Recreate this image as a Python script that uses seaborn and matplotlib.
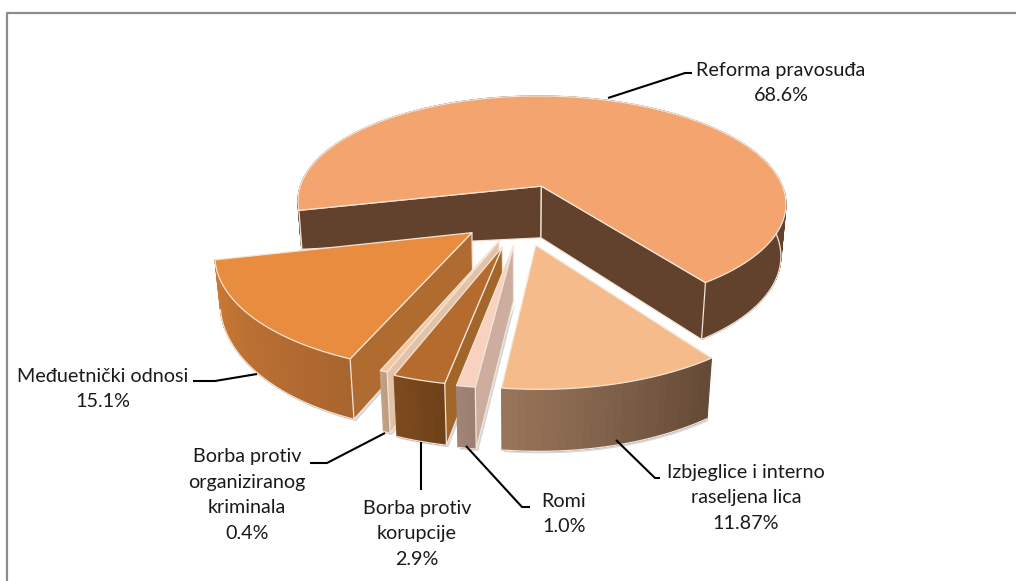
import numpy as np
import seaborn as sns
import matplotlib.pyplot as plt
from matplotlib.patches import Polygon

# slices, clockwise from the big one
labels = ["Reforma pravosuđa", "Izbjeglice i interno\nraseljena lica", "Romi",
          "Borba protiv\nkorupcije", "Borba protiv\norganiziranog\nkriminala", "Međuetnički odnosi"]
values = [68.6, 11.87, 1.0, 2.9, 0.4, 15.1]
value_labels = ["68.6%", "11.87%", "1.0%", "2.9%", "0.4%", "15.1%"]

# look of each slice
explode = [0.275, 0.275, 0.275, 0.29, 0.25, 0.25]
shift_x = [0.0, 0.0, 0.025, 0.02, 0.02, 0.012]
radius = [1.0, 0.98, 0.97, 0.95, 0.98, 0.98]
top_colors = ["#F4A46F", "#F6BB8A", "#F8D2BF", "#B56B2E", "#F5C8A0", "#E88C3F"]
# wall gradients, left to right on screen
wall_colors = [("#62422C", "#62422C"), ("#98755A", "#644A37"), ("#A08478", "#9A7E72"),
               ("#7C4A1E", "#6E4119"), ("#C2A184", "#BC9A7E"), ("#CB7A35", "#A9652F")]
side_colors = ["#62422C", "#62422C", "#CDAE9E", "#A2652A", "#E2C3A8", "#B06B30"]
edge_color = "#F3E4D6"
draw_order = [0, 5, 4, 3, 2, 1]
side_edges = {0: "both", 2: "start", 3: "start", 4: "start", 5: "start"}

# camera
start_angle = 257.0
CX, CY, R = 518.0, 214.0, 251.0
S = 0.449
C = np.sqrt(1 - S ** 2)
D = 5.6
H = 0.242

sns.set_theme(style="white")
plt.rcParams['font.family'] = ['Lato', 'DejaVu Sans']

fig = plt.figure(figsize=(10.16, 5.81), dpi=100)
ax = fig.add_axes([0, 0, 1, 1])
ax.set_xlim(0, 1016)
ax.set_ylim(581, 0)
ax.axis("off")


def project(x, y, z=0.0):
    yc = y * S + z * C
    zc = -y * C + z * S
    w = D / (D - zc)
    return CX + R * x * w, CY - R * yc * w


def depth(t, slice_id):
    # the wall gets squeezed towards the far left of the pie
    left = min(np.sin(t), 0.0)
    amount = 0.3 if slice_id == 0 else 0.12
    return -H * (1 - amount * left ** 4)


def face(points, color, edge=True, zorder=2):
    ax.add_patch(Polygon(points, closed=True, facecolor=color,
                         edgecolor=edge_color if edge else color,
                         linewidth=0.9 if edge else 0.8, joinstyle="round", zorder=zorder))


total = sum(values)
sweeps = [v / total * 2 * np.pi for v in values]
starts = np.radians(start_angle) + np.concatenate([[0], np.cumsum(sweeps)[:-1]])

# soft drop shadow
for i in draw_order[1:]:
    ts = np.linspace(starts[i], starts[i] + sweeps[i], 60)
    mid = starts[i] + sweeps[i] / 2
    ox, oy = explode[i] * np.sin(mid) + shift_x[i], explode[i] * np.cos(mid)
    r = radius[i]
    pts = [project(ox + r * np.sin(t), oy + r * np.cos(t), depth(t, i)) for t in ts]
    pts.append(project(ox, oy, -H))
    pts = [(x + 2, y + 2) for x, y in pts]
    ax.add_patch(Polygon(pts, closed=True, facecolor="#8a8a8a", edgecolor="none", alpha=0.35, zorder=1))

z = 2
for i in draw_order:
    a, b = starts[i], starts[i] + sweeps[i]
    mid = (a + b) / 2
    ox, oy = explode[i] * np.sin(mid) + shift_x[i], explode[i] * np.cos(mid)
    r = radius[i]
    n = max(8, int(sweeps[i] / np.radians(1.5)))
    ts = np.linspace(a, b, n + 1)
    top = [project(ox + r * np.sin(t), oy + r * np.cos(t)) for t in ts]
    bottom = [project(ox + r * np.sin(t), oy + r * np.cos(t), depth(t, i)) for t in ts]
    apex = project(ox, oy)
    apex_low = project(ox, oy, -H)

    # outer wall, painted in strips so the gradient runs along it
    grad = sns.blend_palette(wall_colors[i], n)[::-1]
    for k in range(n):
        face([top[k], top[k + 1], bottom[k + 1], bottom[k]], grad[k], edge=False, zorder=z)
    ax.plot(*zip(*bottom), color=edge_color, lw=0.9, zorder=z)
    z += 1

    # cut faces
    which = side_edges.get(i)
    if which in ("start", "both"):
        face([apex, top[0], bottom[0], apex_low], side_colors[i], zorder=z)
    if which == "both":
        face([apex, top[-1], bottom[-1], apex_low], side_colors[i], zorder=z)
    z += 1

    face([apex] + top, top_colors[i], zorder=z)
    z += 1

# label text
label_pos = [(781, 83), (746, 498), (564, 514), (417, 534), (247, 495), (103, 389)]
for name, pct, (x, y) in zip(labels, value_labels, label_pos):
    ax.text(x, y, name + "\n" + pct, ha="center", va="center", fontsize=14.2,
            color="#1a1a1a", linespacing=1.6, zorder=50)

# leader lines
leaders = [[(608, 98), (685, 73), (692, 73)],
           [(616, 440), (655, 478), (660, 478)],
           [(466, 446), (522, 507), (530, 507)],
           [(421, 442), (421, 490)],
           [(385, 433), (327, 463), (310, 463)],
           [(193, 381), (215, 381), (257, 374)]]
for line in leaders:
    ax.plot(*zip(*line), color="black", lw=1.5, solid_capstyle="butt", zorder=40)

# frame, only the top and left edges are in the crop
ax.plot([6.5, 6.5, 1016], [581, 12.5, 12.5], color="#8C8C8C", lw=1.6, zorder=60)

fig.savefig("out.png", dpi=100)
